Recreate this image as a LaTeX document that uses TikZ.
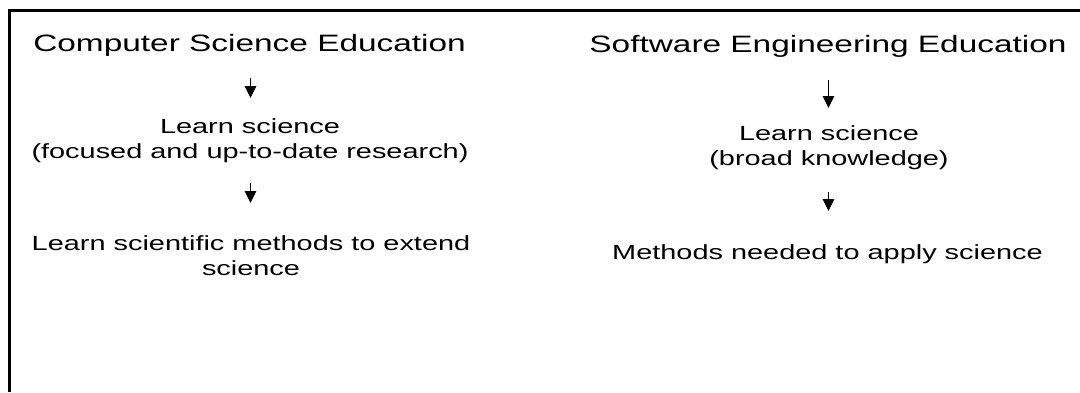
\documentclass[tikz,border=0pt]{standalone}
\usepackage{fontspec}
\setmainfont{Liberation Sans}
\usetikzlibrary{arrows.meta}
\newcommand{\blk}[1]{\scalebox{1}[0.71]{\begin{tabular}[t]{@{}c@{}}#1\end{tabular}}}
\tikzset{
  titletext/.style={anchor=base, inner sep=0pt, font=\fontsize{33.4}{40}\selectfont},
  bodytext/.style={anchor=base, inner sep=0pt, font=\fontsize{28.9}{36.6}\selectfont},
  flow/.style={line width=1.3pt, -{Triangle[width=11.5pt,length=12pt]}},
  frame/.style={line width=2.3pt}
}
\begin{document}
\begin{tikzpicture}[x=1pt,y=1pt]
\useasboundingbox (0,0) rectangle (1080,392);
\draw[frame] (9.5,0) |- (1080,381.5);
% left column
\node[titletext] (lt) at (249.6,341) {\blk{Computer Science Education}};
\node[bodytext] (ll) at (250,259) {\blk{Learn science\\(focused and up-to-date research)}};
\node[bodytext] (lm) at (251,142) {\blk{Learn scientific methods to extend\\science}};
% right column
\node[titletext] (rt) at (828,339) {\blk{Software Engineering Education}};
\node[bodytext] (rl) at (829,252) {\blk{Learn science\\(broad knowledge)}};
\node[bodytext] (rm) at (827.5,133) {\blk{Methods needed to apply science}};
% arrows
\coordinate (a1s) at (250.5,314); \coordinate (a1e) at (250.5,294);
\coordinate (a2s) at (250.5,209); \coordinate (a2e) at (250.5,189);
\coordinate (b1s) at (828.5,312); \coordinate (b1e) at (828.5,284);
\coordinate (b2s) at (828.5,200); \coordinate (b2e) at (828.5,181);
\draw[flow] (a1s) -- (a1e);
\draw[flow] (a2s) -- (a2e);
\draw[flow] (b1s) -- (b1e);
\draw[flow] (b2s) -- (b2e);
\end{tikzpicture}
\end{document}
